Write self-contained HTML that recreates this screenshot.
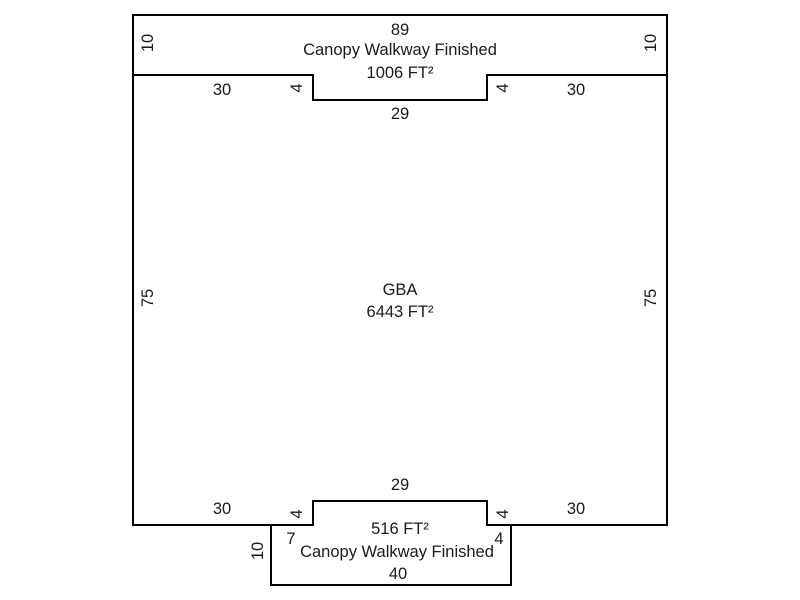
<!DOCTYPE html>
<html><head><style>html,body{margin:0;padding:0;background:#fff;}svg{display:block}</style></head>
<body>
<svg width="800" height="600" xmlns="http://www.w3.org/2000/svg" font-family="Liberation Sans, Arial, sans-serif" font-size="16.5" fill="#000">
<g fill="none" stroke="#000" stroke-width="2">
<polyline points="133,75 133,15 667,15 667,75"/>
<polyline points="133,75 313,75 313,100 487,100 487,75 667,75"/>
<polyline points="133,75 133,525 313,525 313,501 487,501 487,525 667,525 667,75"/>
<polyline points="313,525 271,525 271,585 511,585 511,525 487,525"/>
</g>
<g text-anchor="middle" fill="#1a1a1a">
<text x="400" y="35">89</text>
<text x="400" y="55">Canopy Walkway Finished</text>
<text x="400" y="78">1006 FT²</text>
<text x="222" y="95">30</text>
<text x="576" y="95">30</text>
<text x="400" y="119">29</text>
<text x="400" y="295">GBA</text>
<text x="400" y="317">6443 FT²</text>
<text x="400" y="490">29</text>
<text x="222" y="514">30</text>
<text x="576" y="514">30</text>
<text x="400" y="534">516 FT²</text>
<text x="291" y="544">7</text>
<text x="499" y="544">4</text>
<text x="397" y="557">Canopy Walkway Finished</text>
<text x="398" y="579">40</text>
</g>
<g text-anchor="middle" dominant-baseline="central" fill="#1a1a1a">
<text transform="translate(148,43) rotate(-90)">10</text>
<text transform="translate(651,43) rotate(-90)">10</text>
<text transform="translate(148,298) rotate(-90)">75</text>
<text transform="translate(651,298) rotate(-90)">75</text>
<text transform="translate(297,88) rotate(-90)">4</text>
<text transform="translate(503,88) rotate(-90)">4</text>
<text transform="translate(297,514) rotate(-90)">4</text>
<text transform="translate(503,514) rotate(-90)">4</text>
<text transform="translate(258,551) rotate(-90)">10</text>
</g>
</svg>
</body></html>
